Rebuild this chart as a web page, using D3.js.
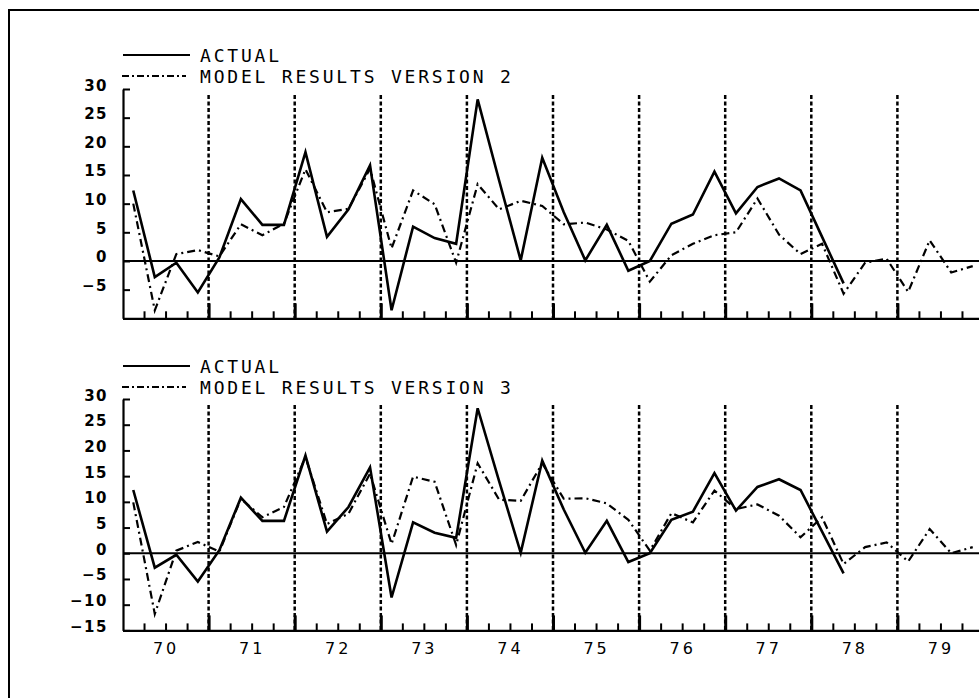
<!DOCTYPE html>
<html>
<head>
<meta charset="utf-8">
<script src="https://cdn.jsdelivr.net/npm/d3@7"></script>
<style>
  body { margin: 0; background: #fff; }
  svg { display: block; }
</style>
</head>
<body>
<div id="chart"></div>
<script>
// quarterly values, 1970 Q1 onwards
var years = [70, 71, 72, 73, 74, 75, 76, 77, 78, 79];

var actual = [12.3, -2.8, -0.3, -5.5, 0.6, 10.8, 6.3, 6.3, 19.0, 4.2,
              9.0, 16.7, -8.6, 6.0, 4.0, 3.0, 28.2, 14.0, 0.1, 18.0,
              8.5, 0.1, 6.3, -1.7, 0.0, 6.5, 8.1, 15.6, 8.3, 12.9,
              14.4, 12.3, 4.2, -3.9];

var modelV2 = [10.0, -8.6, 1.2, 1.9, 0.8, 6.4, 4.5, 6.5, 16.0, 8.5,
               9.1, 16.1, 2.2, 12.3, 9.9, -0.3, 13.4, 9.0, 10.5, 9.6,
               6.4, 6.7, 5.5, 3.5, -3.6, 1.0, 3.0, 4.5, 5.0, 10.9,
               4.6, 1.2, 3.0, -5.7, -0.3, 0.4, -5.4, 3.6, -2.0, -0.9];

var modelV3 = [9.9, -11.8, 0.5, 2.2, 0.3, 10.6, 7.0, 9.0, 18.7, 5.7,
               7.7, 15.5, 1.8, 14.9, 13.9, 1.6, 17.5, 10.4, 10.2, 17.5,
               10.6, 10.7, 9.7, 6.5, 0.5, 7.8, 6.0, 12.2, 8.6, 9.5,
               7.3, 3.1, 7.0, -2.1, 1.2, 2.1, -1.6, 4.7, 0.0, 1.2];

var ticksTop = [-5, 0, 5, 10, 15, 20, 25, 30];
var ticksBottom = [-15, -10, -5, 0, 5, 10, 15, 20, 25, 30];

var width = 979, height = 698;

var svg = d3.select("#chart")
  .append("svg")
  .attr("width", width)
  .attr("height", height);

// frame of the scanned page
svg.append("line").attr("x1", 8).attr("x2", width).attr("y1", 10).attr("y2", 10)
  .attr("stroke", "#000").attr("stroke-width", 2);
svg.append("line").attr("x1", 9).attr("x2", 9).attr("y1", 10).attr("y2", height)
  .attr("stroke", "#000").attr("stroke-width", 2);

var x = d3.scaleLinear().domain([1970, 1980]).range([122.5, 983.5]);
var qx = function (d, i) { return x(1970 + (i + 0.5) / 4); };

var quarterTicks = [];
var yearTicks = [];
var midYears = [];
years.forEach(function (yr, i) {
  var y0 = 1900 + yr;
  quarterTicks.push(y0 + 0.25, y0 + 0.5, y0 + 0.75);
  if (i > 0) yearTicks.push(y0);
  midYears.push(y0 + 0.5);
});

var panels = [
  { top: 89, bottom: 318.3, domain: [-10, 30], ticks: ticksTop, model: modelV2,
    label: "MODEL RESULTS VERSION 2", legendY: 55, years: false },
  { top: 399, bottom: 630.4, domain: [-15, 30], ticks: ticksBottom, model: modelV3,
    label: "MODEL RESULTS VERSION 3", legendY: 366, years: true }
];

panels.forEach(function (p) {
  var y = d3.scaleLinear().domain(p.domain).range([p.bottom, p.top]);
  var g = svg.append("g");

  // year separators
  g.selectAll(".sep")
    .data(yearTicks)
    .enter()
    .append("line")
    .attr("x1", (d) => x(d)).attr("x2", (d) => x(d))
    .attr("y1", p.top + 6).attr("y2", p.bottom)
    .attr("stroke", "#000")
    .attr("stroke-width", 2.5)
    .attr("stroke-dasharray", "4,2.5");

  // y axis, ticks pointing inward
  var yAxis = g.append("g")
    .attr("transform", "translate(123,0)")
    .call(d3.axisLeft(y).tickValues(p.ticks).tickSizeInner(-7).tickSizeOuter(0).tickPadding(15));
  yAxis.select(".domain").attr("stroke-width", 2.2);
  yAxis.selectAll(".tick line").attr("stroke-width", 2);
  yAxis.selectAll(".tick text")
    .attr("dy", "1")
    .style("font-family", "DejaVu Sans")
    .style("font-weight", "bold")
    .style("font-size", "15px")
    .style("letter-spacing", "1.5px")
    .attr("fill", "#000");

  // quarter ticks
  var xAxis = g.append("g")
    .attr("transform", "translate(0," + p.bottom + ")")
    .call(d3.axisBottom(x).tickValues(quarterTicks).tickSizeInner(-7).tickSizeOuter(0).tickFormat(""));
  xAxis.select(".domain").attr("stroke-width", 2.2);
  xAxis.selectAll(".tick line").attr("stroke-width", 2);

  // year ticks
  var majAxis = g.append("g")
    .attr("transform", "translate(0," + p.bottom + ")")
    .call(d3.axisBottom(x).tickValues(yearTicks).tickSizeInner(-15).tickSizeOuter(0).tickFormat(""));
  majAxis.select(".domain").remove();
  majAxis.selectAll(".tick line").attr("stroke-width", 3);

  if (p.years) {
    var labAxis = g.append("g")
      .attr("transform", "translate(0," + p.bottom + ")")
      .call(d3.axisBottom(x).tickValues(midYears).tickSize(0).tickPadding(12)
        .tickFormat((d) => String(Math.floor(d)).slice(2)));
    labAxis.select(".domain").remove();
    labAxis.selectAll(".tick text")
      .style("font-family", "DejaVu Sans")
      .style("font-size", "16px")
      .style("letter-spacing", "3px")
      .attr("fill", "#000");
  }

  // zero line
  g.append("line")
    .attr("x1", 123).attr("x2", width)
    .attr("y1", y(0)).attr("y2", y(0))
    .attr("stroke", "#000").attr("stroke-width", 1.8);

  var line = d3.line().x(qx).y((d) => y(d));

  g.append("path")
    .datum(p.model)
    .attr("d", line)
    .attr("fill", "none")
    .attr("stroke", "#000")
    .attr("stroke-width", 2.2)
    .attr("stroke-dasharray", "8,4,2,4");

  g.append("path")
    .datum(actual)
    .attr("d", line)
    .attr("fill", "none")
    .attr("stroke", "#000")
    .attr("stroke-width", 2.6)
    .attr("stroke-linejoin", "miter");

  // legend
  var leg = g.append("g");
  leg.append("line")
    .attr("x1", 123).attr("x2", 190)
    .attr("y1", p.legendY).attr("y2", p.legendY)
    .attr("stroke", "#000").attr("stroke-width", 2);
  leg.append("line")
    .attr("x1", 122).attr("x2", 186)
    .attr("y1", p.legendY + 21).attr("y2", p.legendY + 21)
    .attr("stroke", "#000").attr("stroke-width", 2)
    .attr("stroke-dasharray", "7,3,2,3");
  leg.selectAll("text")
    .data(["ACTUAL", p.label])
    .enter()
    .append("text")
    .attr("x", 200)
    .attr("y", (d, i) => p.legendY + 6.5 + i * 21)
    .style("font-family", "DejaVu Sans Mono")
    .style("font-size", "18px")
    .style("letter-spacing", "2.8px")
    .attr("fill", "#000")
    .text((d) => d);
});
</script>
</body>
</html>
